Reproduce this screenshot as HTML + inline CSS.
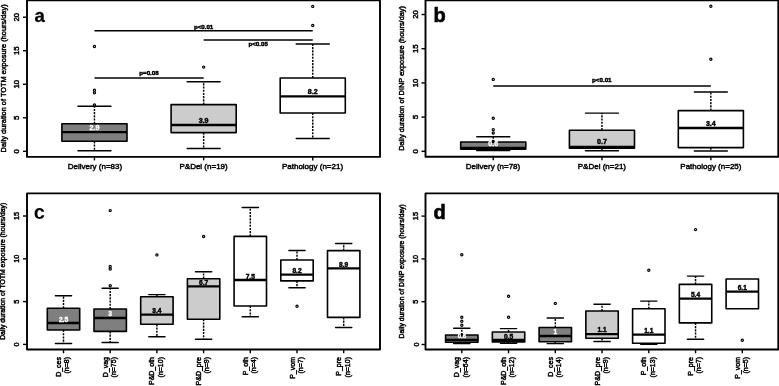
<!DOCTYPE html>
<html><head><meta charset="utf-8"><style>
html,body{margin:0;padding:0;background:#fff;}
body{width:779px;height:386px;overflow:hidden;}
svg{display:block;font-family:"Liberation Sans", sans-serif;will-change:transform;}
text.b{font-weight:700;}
text.k{stroke:#000;stroke-width:0.25px;}
text.w{stroke:#fff;stroke-width:0.2px;}
text.r{stroke:#000;stroke-width:0.45px;}
text.k2{stroke:#000;stroke-width:0.45px;}
text.w2{stroke:#fff;stroke-width:0.35px;}
</style></head><body>
<svg width="779" height="386" viewBox="0 0 779 386">
<rect x="0" y="0" width="779" height="386" fill="#fff"/>
<rect x="27" y="0.3" width="353" height="156.6" fill="none" stroke="#000" stroke-width="1.9" stroke-linejoin="round"/>
<line x1="23" y1="151.3" x2="27" y2="151.3" stroke="#000" stroke-width="1.4"/>
<text x="18.9" y="151.3" transform="rotate(-90 18.9 151.3)" text-anchor="middle" font-size="7.8" class="r">0</text>
<line x1="23" y1="117.78" x2="27" y2="117.78" stroke="#000" stroke-width="1.4"/>
<text x="18.9" y="117.78" transform="rotate(-90 18.9 117.78)" text-anchor="middle" font-size="7.8" class="r">5</text>
<line x1="23" y1="84.25" x2="27" y2="84.25" stroke="#000" stroke-width="1.4"/>
<text x="18.9" y="84.25" transform="rotate(-90 18.9 84.25)" text-anchor="middle" font-size="7.8" class="r">10</text>
<line x1="23" y1="50.73" x2="27" y2="50.73" stroke="#000" stroke-width="1.4"/>
<text x="18.9" y="50.73" transform="rotate(-90 18.9 50.73)" text-anchor="middle" font-size="7.8" class="r">15</text>
<line x1="23" y1="17.2" x2="27" y2="17.2" stroke="#000" stroke-width="1.4"/>
<text x="18.9" y="17.2" transform="rotate(-90 18.9 17.2)" text-anchor="middle" font-size="7.8" class="r">20</text>
<text x="5.9" y="78.4" transform="rotate(-90 5.9 78.4)" text-anchor="middle" font-size="7.4" class="r">Daily duration of TOTM exposure (hours/day)</text>
<text x="34.6" y="21.7" font-size="18.6" class="b" stroke="#000" stroke-width="0.3">a</text>
<line x1="94.45" y1="123.8" x2="94.45" y2="106.3" stroke="#000" stroke-width="1.45" stroke-dasharray="2.1 1.1"/>
<line x1="94.45" y1="141.3" x2="94.45" y2="150.8" stroke="#000" stroke-width="1.45" stroke-dasharray="2.1 1.1"/>
<line x1="77.95" y1="106.3" x2="110.95" y2="106.3" stroke="#000" stroke-width="1.45" stroke-linecap="round"/>
<line x1="77.95" y1="150.8" x2="110.95" y2="150.8" stroke="#000" stroke-width="1.45" stroke-linecap="round"/>
<rect x="61.9" y="123.8" width="65.1" height="17.5" fill="#7f7f7f" stroke="#000" stroke-width="1.6" stroke-linejoin="round"/>
<line x1="61.9" y1="132.1" x2="127" y2="132.1" stroke="#000" stroke-width="2.3"/>
<circle cx="94.45" cy="105" r="1.1" fill="none" stroke="#000" stroke-width="1.2"/>
<circle cx="94.45" cy="90.2" r="1.1" fill="none" stroke="#000" stroke-width="1.2"/>
<circle cx="94.45" cy="92.7" r="1.1" fill="none" stroke="#000" stroke-width="1.2"/>
<circle cx="94.45" cy="46.5" r="1.1" fill="none" stroke="#000" stroke-width="1.2"/>
<text x="94.45" y="130.2" text-anchor="middle" font-size="7.1" fill="#fff" class="b w2">2.9</text>
<line x1="203.65" y1="104.6" x2="203.65" y2="81.8" stroke="#000" stroke-width="1.45" stroke-dasharray="2.1 1.1"/>
<line x1="203.65" y1="132.6" x2="203.65" y2="148.5" stroke="#000" stroke-width="1.45" stroke-dasharray="2.1 1.1"/>
<line x1="187.15" y1="81.8" x2="220.15" y2="81.8" stroke="#000" stroke-width="1.45" stroke-linecap="round"/>
<line x1="187.15" y1="148.5" x2="220.15" y2="148.5" stroke="#000" stroke-width="1.45" stroke-linecap="round"/>
<rect x="171.1" y="104.6" width="65.1" height="28" fill="#cccccc" stroke="#000" stroke-width="1.6" stroke-linejoin="round"/>
<line x1="171.1" y1="125" x2="236.2" y2="125" stroke="#000" stroke-width="2.3"/>
<circle cx="203.65" cy="67.1" r="1.1" fill="none" stroke="#000" stroke-width="1.2"/>
<text x="203.65" y="123.1" text-anchor="middle" font-size="7.1" fill="#000" class="b k2">3.9</text>
<line x1="312.75" y1="78" x2="312.75" y2="43.9" stroke="#000" stroke-width="1.45" stroke-dasharray="2.1 1.1"/>
<line x1="312.75" y1="113" x2="312.75" y2="138.4" stroke="#000" stroke-width="1.45" stroke-dasharray="2.1 1.1"/>
<line x1="296.25" y1="43.9" x2="329.25" y2="43.9" stroke="#000" stroke-width="1.45" stroke-linecap="round"/>
<line x1="296.25" y1="138.4" x2="329.25" y2="138.4" stroke="#000" stroke-width="1.45" stroke-linecap="round"/>
<rect x="280.2" y="78" width="65.1" height="35" fill="#ffffff" stroke="#000" stroke-width="1.6" stroke-linejoin="round"/>
<line x1="280.2" y1="96.3" x2="345.3" y2="96.3" stroke="#000" stroke-width="2.3"/>
<circle cx="312.75" cy="6.4" r="1.1" fill="none" stroke="#000" stroke-width="1.2"/>
<circle cx="312.75" cy="25.5" r="1.1" fill="none" stroke="#000" stroke-width="1.2"/>
<text x="312.75" y="94.4" text-anchor="middle" font-size="7.1" fill="#000" class="b k2">8.2</text>
<line x1="94.45" y1="30.7" x2="312.75" y2="30.7" stroke="#000" stroke-width="1.5"/>
<text x="203.6" y="29" text-anchor="middle" font-size="6.2" class="b k2">p&lt;0.01</text>
<line x1="203.65" y1="40" x2="312.75" y2="40" stroke="#000" stroke-width="1.5"/>
<text x="258.2" y="45.8" text-anchor="middle" font-size="6.2" class="b k2">p&lt;0.05</text>
<line x1="94.45" y1="77.9" x2="203.65" y2="77.9" stroke="#000" stroke-width="1.5"/>
<text x="149" y="75.4" text-anchor="middle" font-size="6.2" class="b k2">p=0.08</text>
<line x1="94.45" y1="156.9" x2="94.45" y2="160.4" stroke="#000" stroke-width="1.4"/>
<line x1="203.65" y1="156.9" x2="203.65" y2="160.4" stroke="#000" stroke-width="1.4"/>
<line x1="312.75" y1="156.9" x2="312.75" y2="160.4" stroke="#000" stroke-width="1.4"/>
<text x="94.9" y="168.5" text-anchor="middle" font-size="8.0" class="r">Delivery (n=83)</text>
<text x="203.6" y="168.5" text-anchor="middle" font-size="8.0" class="r">P&amp;Del (n=19)</text>
<text x="312.5" y="168.5" text-anchor="middle" font-size="8.0" class="r">Pathology (n=21)</text>
<rect x="425.5" y="0.3" width="352.8" height="156.5" fill="none" stroke="#000" stroke-width="1.9" stroke-linejoin="round"/>
<line x1="421.5" y1="151.3" x2="425.5" y2="151.3" stroke="#000" stroke-width="1.4"/>
<text x="417.9" y="151.3" transform="rotate(-90 417.9 151.3)" text-anchor="middle" font-size="7.8" class="r">0</text>
<line x1="421.5" y1="117.1" x2="425.5" y2="117.1" stroke="#000" stroke-width="1.4"/>
<text x="417.9" y="117.1" transform="rotate(-90 417.9 117.1)" text-anchor="middle" font-size="7.8" class="r">5</text>
<line x1="421.5" y1="82.9" x2="425.5" y2="82.9" stroke="#000" stroke-width="1.4"/>
<text x="417.9" y="82.9" transform="rotate(-90 417.9 82.9)" text-anchor="middle" font-size="7.8" class="r">10</text>
<line x1="421.5" y1="48.7" x2="425.5" y2="48.7" stroke="#000" stroke-width="1.4"/>
<text x="417.9" y="48.7" transform="rotate(-90 417.9 48.7)" text-anchor="middle" font-size="7.8" class="r">15</text>
<line x1="421.5" y1="14.5" x2="425.5" y2="14.5" stroke="#000" stroke-width="1.4"/>
<text x="417.9" y="14.5" transform="rotate(-90 417.9 14.5)" text-anchor="middle" font-size="7.8" class="r">20</text>
<text x="404.3" y="78.4" transform="rotate(-90 404.3 78.4)" text-anchor="middle" font-size="7.4" class="r">Daily duration of DINP exposure (hours/day)</text>
<text x="433.6" y="21.7" font-size="20" class="b" stroke="#000" stroke-width="0.6">b</text>
<line x1="493.25" y1="142" x2="493.25" y2="136.8" stroke="#000" stroke-width="1.45" stroke-dasharray="2.1 1.1"/>
<line x1="493.25" y1="149.1" x2="493.25" y2="150.5" stroke="#000" stroke-width="1.45" stroke-dasharray="2.1 1.1"/>
<line x1="476.75" y1="136.8" x2="509.75" y2="136.8" stroke="#000" stroke-width="1.45" stroke-linecap="round"/>
<line x1="476.75" y1="150.5" x2="509.75" y2="150.5" stroke="#000" stroke-width="1.45" stroke-linecap="round"/>
<rect x="460.7" y="142" width="65.1" height="7.1" fill="#7f7f7f" stroke="#000" stroke-width="1.6" stroke-linejoin="round"/>
<line x1="460.7" y1="148" x2="525.8" y2="148" stroke="#000" stroke-width="2.3"/>
<circle cx="493.25" cy="79.4" r="1.1" fill="none" stroke="#000" stroke-width="1.2"/>
<circle cx="493.25" cy="118.3" r="1.1" fill="none" stroke="#000" stroke-width="1.2"/>
<circle cx="493.25" cy="129.6" r="1.1" fill="none" stroke="#000" stroke-width="1.2"/>
<circle cx="493.25" cy="133" r="1.1" fill="none" stroke="#000" stroke-width="1.2"/>
<circle cx="493.25" cy="141.4" r="1.1" fill="none" stroke="#000" stroke-width="1.2"/>
<text x="493.25" y="146.2" text-anchor="middle" font-size="7.1" fill="#fff" class="b w2">0.6</text>
<line x1="601.95" y1="130.2" x2="601.95" y2="113.1" stroke="#000" stroke-width="1.45" stroke-dasharray="2.1 1.1"/>
<line x1="601.95" y1="148.3" x2="601.95" y2="150.7" stroke="#000" stroke-width="1.45" stroke-dasharray="2.1 1.1"/>
<line x1="585.45" y1="113.1" x2="618.45" y2="113.1" stroke="#000" stroke-width="1.45" stroke-linecap="round"/>
<line x1="585.45" y1="150.7" x2="618.45" y2="150.7" stroke="#000" stroke-width="1.45" stroke-linecap="round"/>
<rect x="569.4" y="130.2" width="65.1" height="18.1" fill="#cccccc" stroke="#000" stroke-width="1.6" stroke-linejoin="round"/>
<line x1="569.4" y1="147" x2="634.5" y2="147" stroke="#000" stroke-width="2.3"/>
<text x="601.95" y="144.4" text-anchor="middle" font-size="7.1" fill="#000" class="b k2">0.7</text>
<line x1="710.85" y1="110.6" x2="710.85" y2="92" stroke="#000" stroke-width="1.45" stroke-dasharray="2.1 1.1"/>
<line x1="710.85" y1="147.6" x2="710.85" y2="151" stroke="#000" stroke-width="1.45" stroke-dasharray="2.1 1.1"/>
<line x1="694.35" y1="92" x2="727.35" y2="92" stroke="#000" stroke-width="1.45" stroke-linecap="round"/>
<line x1="694.35" y1="151" x2="727.35" y2="151" stroke="#000" stroke-width="1.45" stroke-linecap="round"/>
<rect x="678.3" y="110.6" width="65.1" height="37" fill="#ffffff" stroke="#000" stroke-width="1.6" stroke-linejoin="round"/>
<line x1="678.3" y1="128" x2="743.4" y2="128" stroke="#000" stroke-width="2.3"/>
<circle cx="710.85" cy="6.2" r="1.1" fill="none" stroke="#000" stroke-width="1.2"/>
<circle cx="710.85" cy="59.3" r="1.1" fill="none" stroke="#000" stroke-width="1.2"/>
<text x="710.85" y="126.1" text-anchor="middle" font-size="7.1" fill="#000" class="b k2">3.4</text>
<line x1="493.25" y1="85.9" x2="710.85" y2="85.9" stroke="#000" stroke-width="1.5"/>
<text x="601.8" y="81.8" text-anchor="middle" font-size="6.2" class="b k2">p&lt;0.01</text>
<line x1="493.25" y1="156.8" x2="493.25" y2="160.3" stroke="#000" stroke-width="1.4"/>
<line x1="601.95" y1="156.8" x2="601.95" y2="160.3" stroke="#000" stroke-width="1.4"/>
<line x1="710.85" y1="156.8" x2="710.85" y2="160.3" stroke="#000" stroke-width="1.4"/>
<text x="493" y="168.5" text-anchor="middle" font-size="8.0" class="r">Delivery (n=78)</text>
<text x="601.9" y="168.5" text-anchor="middle" font-size="8.0" class="r">P&amp;Del (n=21)</text>
<text x="710.9" y="168.5" text-anchor="middle" font-size="8.0" class="r">Pathology (n=25)</text>
<rect x="27" y="193.4" width="353" height="156.1" fill="none" stroke="#000" stroke-width="1.9" stroke-linejoin="round"/>
<line x1="23" y1="344.4" x2="27" y2="344.4" stroke="#000" stroke-width="1.4"/>
<text x="18.8" y="344.4" transform="rotate(-90 18.8 344.4)" text-anchor="middle" font-size="7.3" class="r">0</text>
<line x1="23" y1="301.6" x2="27" y2="301.6" stroke="#000" stroke-width="1.4"/>
<text x="18.8" y="301.6" transform="rotate(-90 18.8 301.6)" text-anchor="middle" font-size="7.3" class="r">5</text>
<line x1="23" y1="258.8" x2="27" y2="258.8" stroke="#000" stroke-width="1.4"/>
<text x="18.8" y="258.8" transform="rotate(-90 18.8 258.8)" text-anchor="middle" font-size="7.3" class="r">10</text>
<line x1="23" y1="216" x2="27" y2="216" stroke="#000" stroke-width="1.4"/>
<text x="18.8" y="216" transform="rotate(-90 18.8 216)" text-anchor="middle" font-size="7.3" class="r">15</text>
<text x="5.4" y="271.3" transform="rotate(-90 5.4 271.3)" text-anchor="middle" font-size="6.85" class="r">Daily duration of TOTM exposure (hours/day)</text>
<text x="33.8" y="218.8" font-size="20" class="b">c</text>
<line x1="63.5" y1="308.3" x2="63.5" y2="295.8" stroke="#000" stroke-width="1.45" stroke-dasharray="2.1 1.1"/>
<line x1="63.5" y1="330" x2="63.5" y2="343.5" stroke="#000" stroke-width="1.45" stroke-dasharray="2.1 1.1"/>
<line x1="55.4" y1="295.8" x2="71.6" y2="295.8" stroke="#000" stroke-width="1.45" stroke-linecap="round"/>
<line x1="55.4" y1="343.5" x2="71.6" y2="343.5" stroke="#000" stroke-width="1.45" stroke-linecap="round"/>
<rect x="47.3" y="308.3" width="32.4" height="21.7" fill="#7f7f7f" stroke="#000" stroke-width="1.6" stroke-linejoin="round"/>
<line x1="47.3" y1="323" x2="79.7" y2="323" stroke="#000" stroke-width="2.3"/>
<text x="63.5" y="321.6" text-anchor="middle" font-size="6.6" fill="#fff" class="b w2">2.5</text>
<line x1="110.2" y1="309" x2="110.2" y2="288.3" stroke="#000" stroke-width="1.45" stroke-dasharray="2.1 1.1"/>
<line x1="110.2" y1="331.4" x2="110.2" y2="342.5" stroke="#000" stroke-width="1.45" stroke-dasharray="2.1 1.1"/>
<line x1="102.1" y1="288.3" x2="118.3" y2="288.3" stroke="#000" stroke-width="1.45" stroke-linecap="round"/>
<line x1="102.1" y1="342.5" x2="118.3" y2="342.5" stroke="#000" stroke-width="1.45" stroke-linecap="round"/>
<rect x="94" y="309" width="32.4" height="22.4" fill="#7f7f7f" stroke="#000" stroke-width="1.6" stroke-linejoin="round"/>
<line x1="94" y1="318" x2="126.4" y2="318" stroke="#000" stroke-width="2.3"/>
<circle cx="110.2" cy="210.6" r="1.1" fill="none" stroke="#000" stroke-width="1.2"/>
<circle cx="110.2" cy="266.4" r="1.1" fill="none" stroke="#000" stroke-width="1.2"/>
<circle cx="110.2" cy="269" r="1.1" fill="none" stroke="#000" stroke-width="1.2"/>
<circle cx="110.2" cy="285.8" r="1.1" fill="none" stroke="#000" stroke-width="1.2"/>
<text x="110.2" y="316.1" text-anchor="middle" font-size="6.6" fill="#fff" class="b w2">3</text>
<line x1="156.9" y1="296.7" x2="156.9" y2="294.6" stroke="#000" stroke-width="1.45" stroke-dasharray="2.1 1.1"/>
<line x1="156.9" y1="324.3" x2="156.9" y2="336.7" stroke="#000" stroke-width="1.45" stroke-dasharray="2.1 1.1"/>
<line x1="148.8" y1="294.6" x2="165" y2="294.6" stroke="#000" stroke-width="1.45" stroke-linecap="round"/>
<line x1="148.8" y1="336.7" x2="165" y2="336.7" stroke="#000" stroke-width="1.45" stroke-linecap="round"/>
<rect x="140.7" y="296.7" width="32.4" height="27.6" fill="#cccccc" stroke="#000" stroke-width="1.6" stroke-linejoin="round"/>
<line x1="140.7" y1="314.7" x2="173.1" y2="314.7" stroke="#000" stroke-width="2.3"/>
<circle cx="156.9" cy="254.9" r="1.1" fill="none" stroke="#000" stroke-width="1.2"/>
<text x="156.9" y="313.4" text-anchor="middle" font-size="6.6" fill="#000" class="b k2">3.4</text>
<line x1="203.6" y1="278.7" x2="203.6" y2="271.8" stroke="#000" stroke-width="1.45" stroke-dasharray="2.1 1.1"/>
<line x1="203.6" y1="319.2" x2="203.6" y2="339.2" stroke="#000" stroke-width="1.45" stroke-dasharray="2.1 1.1"/>
<line x1="195.5" y1="271.8" x2="211.7" y2="271.8" stroke="#000" stroke-width="1.45" stroke-linecap="round"/>
<line x1="195.5" y1="339.2" x2="211.7" y2="339.2" stroke="#000" stroke-width="1.45" stroke-linecap="round"/>
<rect x="187.4" y="278.7" width="32.4" height="40.5" fill="#cccccc" stroke="#000" stroke-width="1.6" stroke-linejoin="round"/>
<line x1="187.4" y1="286.3" x2="219.8" y2="286.3" stroke="#000" stroke-width="2.3"/>
<circle cx="203.6" cy="236.5" r="1.1" fill="none" stroke="#000" stroke-width="1.2"/>
<text x="203.6" y="284.9" text-anchor="middle" font-size="6.6" fill="#000" class="b k2">6.7</text>
<line x1="250.3" y1="236.4" x2="250.3" y2="207.4" stroke="#000" stroke-width="1.45" stroke-dasharray="2.1 1.1"/>
<line x1="250.3" y1="306" x2="250.3" y2="316.8" stroke="#000" stroke-width="1.45" stroke-dasharray="2.1 1.1"/>
<line x1="242.2" y1="207.4" x2="258.4" y2="207.4" stroke="#000" stroke-width="1.45" stroke-linecap="round"/>
<line x1="242.2" y1="316.8" x2="258.4" y2="316.8" stroke="#000" stroke-width="1.45" stroke-linecap="round"/>
<rect x="234.1" y="236.4" width="32.4" height="69.6" fill="#ffffff" stroke="#000" stroke-width="1.6" stroke-linejoin="round"/>
<line x1="234.1" y1="280" x2="266.5" y2="280" stroke="#000" stroke-width="2.3"/>
<text x="250.3" y="278.7" text-anchor="middle" font-size="6.6" fill="#000" class="b k2">7.5</text>
<line x1="297" y1="260" x2="297" y2="250.5" stroke="#000" stroke-width="1.45" stroke-dasharray="2.1 1.1"/>
<line x1="297" y1="280.9" x2="297" y2="287.8" stroke="#000" stroke-width="1.45" stroke-dasharray="2.1 1.1"/>
<line x1="288.9" y1="250.5" x2="305.1" y2="250.5" stroke="#000" stroke-width="1.45" stroke-linecap="round"/>
<line x1="288.9" y1="287.8" x2="305.1" y2="287.8" stroke="#000" stroke-width="1.45" stroke-linecap="round"/>
<rect x="280.8" y="260" width="32.4" height="20.9" fill="#ffffff" stroke="#000" stroke-width="1.6" stroke-linejoin="round"/>
<line x1="280.8" y1="274.6" x2="313.2" y2="274.6" stroke="#000" stroke-width="2.3"/>
<circle cx="297" cy="306.2" r="1.1" fill="none" stroke="#000" stroke-width="1.2"/>
<text x="297" y="272.7" text-anchor="middle" font-size="6.6" fill="#000" class="b k2">8.2</text>
<line x1="343.7" y1="250.6" x2="343.7" y2="243.4" stroke="#000" stroke-width="1.45" stroke-dasharray="2.1 1.1"/>
<line x1="343.7" y1="317.4" x2="343.7" y2="327.4" stroke="#000" stroke-width="1.45" stroke-dasharray="2.1 1.1"/>
<line x1="335.6" y1="243.4" x2="351.8" y2="243.4" stroke="#000" stroke-width="1.45" stroke-linecap="round"/>
<line x1="335.6" y1="327.4" x2="351.8" y2="327.4" stroke="#000" stroke-width="1.45" stroke-linecap="round"/>
<rect x="327.5" y="250.6" width="32.4" height="66.8" fill="#ffffff" stroke="#000" stroke-width="1.6" stroke-linejoin="round"/>
<line x1="327.5" y1="268.4" x2="359.9" y2="268.4" stroke="#000" stroke-width="2.3"/>
<text x="343.7" y="266.5" text-anchor="middle" font-size="6.6" fill="#000" class="b k2">8.9</text>
<line x1="63.5" y1="349.5" x2="63.5" y2="353.3" stroke="#000" stroke-width="1.4"/>
<text x="58.55" y="357" transform="rotate(-90 58.55 357)" text-anchor="end" dominant-baseline="central" font-size="7" class="r">D_ces</text>
<text x="66.85" y="357" transform="rotate(-90 66.85 357)" text-anchor="end" dominant-baseline="central" font-size="7" class="r">(n=8)</text>
<line x1="110.2" y1="349.5" x2="110.2" y2="353.3" stroke="#000" stroke-width="1.4"/>
<text x="105.25" y="357" transform="rotate(-90 105.25 357)" text-anchor="end" dominant-baseline="central" font-size="7" class="r">D_vag</text>
<text x="113.55" y="357" transform="rotate(-90 113.55 357)" text-anchor="end" dominant-baseline="central" font-size="7" class="r">(n=75)</text>
<line x1="156.9" y1="349.5" x2="156.9" y2="353.3" stroke="#000" stroke-width="1.4"/>
<text x="151.95" y="357" transform="rotate(-90 151.95 357)" text-anchor="end" dominant-baseline="central" font-size="7" class="r">P&amp;D_oth</text>
<text x="160.25" y="357" transform="rotate(-90 160.25 357)" text-anchor="end" dominant-baseline="central" font-size="7" class="r">(n=10)</text>
<line x1="203.6" y1="349.5" x2="203.6" y2="353.3" stroke="#000" stroke-width="1.4"/>
<text x="198.65" y="357" transform="rotate(-90 198.65 357)" text-anchor="end" dominant-baseline="central" font-size="7" class="r">P&amp;D_pre</text>
<text x="206.95" y="357" transform="rotate(-90 206.95 357)" text-anchor="end" dominant-baseline="central" font-size="7" class="r">(n=9)</text>
<line x1="250.3" y1="349.5" x2="250.3" y2="353.3" stroke="#000" stroke-width="1.4"/>
<text x="245.35" y="357" transform="rotate(-90 245.35 357)" text-anchor="end" dominant-baseline="central" font-size="7" class="r">P_oth</text>
<text x="253.65" y="357" transform="rotate(-90 253.65 357)" text-anchor="end" dominant-baseline="central" font-size="7" class="r">(n=4)</text>
<line x1="297" y1="349.5" x2="297" y2="353.3" stroke="#000" stroke-width="1.4"/>
<text x="292.05" y="357" transform="rotate(-90 292.05 357)" text-anchor="end" dominant-baseline="central" font-size="7" class="r">P_vom</text>
<text x="300.35" y="357" transform="rotate(-90 300.35 357)" text-anchor="end" dominant-baseline="central" font-size="7" class="r">(n=7)</text>
<line x1="343.7" y1="349.5" x2="343.7" y2="353.3" stroke="#000" stroke-width="1.4"/>
<text x="338.75" y="357" transform="rotate(-90 338.75 357)" text-anchor="end" dominant-baseline="central" font-size="7" class="r">P_pre</text>
<text x="347.05" y="357" transform="rotate(-90 347.05 357)" text-anchor="end" dominant-baseline="central" font-size="7" class="r">(n=10)</text>
<rect x="425.5" y="193.4" width="352.8" height="156.1" fill="none" stroke="#000" stroke-width="1.9" stroke-linejoin="round"/>
<line x1="421.5" y1="344.5" x2="425.5" y2="344.5" stroke="#000" stroke-width="1.4"/>
<text x="418.5" y="344.5" transform="rotate(-90 418.5 344.5)" text-anchor="middle" font-size="7.3" class="r">0</text>
<line x1="421.5" y1="301.7" x2="425.5" y2="301.7" stroke="#000" stroke-width="1.4"/>
<text x="418.5" y="301.7" transform="rotate(-90 418.5 301.7)" text-anchor="middle" font-size="7.3" class="r">5</text>
<line x1="421.5" y1="258.9" x2="425.5" y2="258.9" stroke="#000" stroke-width="1.4"/>
<text x="418.5" y="258.9" transform="rotate(-90 418.5 258.9)" text-anchor="middle" font-size="7.3" class="r">10</text>
<line x1="421.5" y1="216.1" x2="425.5" y2="216.1" stroke="#000" stroke-width="1.4"/>
<text x="418.5" y="216.1" transform="rotate(-90 418.5 216.1)" text-anchor="middle" font-size="7.3" class="r">15</text>
<text x="404" y="271.3" transform="rotate(-90 404 271.3)" text-anchor="middle" font-size="6.85" class="r">Daily duration of DINP exposure (hours/day)</text>
<text x="433.4" y="218.8" font-size="20" class="b" stroke="#000" stroke-width="0.6">d</text>
<line x1="461.8" y1="335" x2="461.8" y2="328.3" stroke="#000" stroke-width="1.45" stroke-dasharray="2.1 1.1"/>
<line x1="461.8" y1="342.3" x2="461.8" y2="343.4" stroke="#000" stroke-width="1.45" stroke-dasharray="2.1 1.1"/>
<line x1="453.7" y1="328.3" x2="469.9" y2="328.3" stroke="#000" stroke-width="1.45" stroke-linecap="round"/>
<line x1="453.7" y1="343.4" x2="469.9" y2="343.4" stroke="#000" stroke-width="1.45" stroke-linecap="round"/>
<rect x="445.6" y="335" width="32.4" height="7.3" fill="#7f7f7f" stroke="#000" stroke-width="1.6" stroke-linejoin="round"/>
<line x1="445.6" y1="339.8" x2="478" y2="339.8" stroke="#000" stroke-width="2.3"/>
<circle cx="461.8" cy="254.7" r="1.1" fill="none" stroke="#000" stroke-width="1.2"/>
<circle cx="461.8" cy="317.3" r="1.1" fill="none" stroke="#000" stroke-width="1.2"/>
<circle cx="461.8" cy="321.2" r="1.1" fill="none" stroke="#000" stroke-width="1.2"/>
<circle cx="461.8" cy="325.3" r="1.1" fill="none" stroke="#000" stroke-width="1.2"/>
<circle cx="461.8" cy="334.9" r="1.1" fill="none" stroke="#000" stroke-width="1.2"/>
<text x="461.8" y="338.4" text-anchor="middle" font-size="6.0" fill="#fff" class="b w2">0.6</text>
<line x1="508.55" y1="332" x2="508.55" y2="328.6" stroke="#000" stroke-width="1.45" stroke-dasharray="2.1 1.1"/>
<line x1="508.55" y1="341.9" x2="508.55" y2="343.3" stroke="#000" stroke-width="1.45" stroke-dasharray="2.1 1.1"/>
<line x1="500.45" y1="328.6" x2="516.65" y2="328.6" stroke="#000" stroke-width="1.45" stroke-linecap="round"/>
<line x1="500.45" y1="343.3" x2="516.65" y2="343.3" stroke="#000" stroke-width="1.45" stroke-linecap="round"/>
<rect x="492.35" y="332" width="32.4" height="9.9" fill="#cccccc" stroke="#000" stroke-width="1.6" stroke-linejoin="round"/>
<line x1="492.35" y1="340" x2="524.75" y2="340" stroke="#000" stroke-width="2.3"/>
<circle cx="508.55" cy="296.2" r="1.1" fill="none" stroke="#000" stroke-width="1.2"/>
<circle cx="508.55" cy="317.2" r="1.1" fill="none" stroke="#000" stroke-width="1.2"/>
<text x="508.55" y="338.5" text-anchor="middle" font-size="6.6" fill="#000" class="b k2">0.5</text>
<line x1="555.3" y1="327.5" x2="555.3" y2="318" stroke="#000" stroke-width="1.45" stroke-dasharray="2.1 1.1"/>
<line x1="555.3" y1="341.7" x2="555.3" y2="343.6" stroke="#000" stroke-width="1.45" stroke-dasharray="2.1 1.1"/>
<line x1="547.2" y1="318" x2="563.4" y2="318" stroke="#000" stroke-width="1.45" stroke-linecap="round"/>
<line x1="547.2" y1="343.6" x2="563.4" y2="343.6" stroke="#000" stroke-width="1.45" stroke-linecap="round"/>
<rect x="539.1" y="327.5" width="32.4" height="14.2" fill="#7f7f7f" stroke="#000" stroke-width="1.6" stroke-linejoin="round"/>
<line x1="539.1" y1="336" x2="571.5" y2="336" stroke="#000" stroke-width="2.3"/>
<circle cx="555.3" cy="303.4" r="1.1" fill="none" stroke="#000" stroke-width="1.2"/>
<text x="555.3" y="334.1" text-anchor="middle" font-size="6.6" fill="#fff" class="b w2">1</text>
<line x1="602.05" y1="311" x2="602.05" y2="304.3" stroke="#000" stroke-width="1.45" stroke-dasharray="2.1 1.1"/>
<line x1="602.05" y1="338.3" x2="602.05" y2="341.5" stroke="#000" stroke-width="1.45" stroke-dasharray="2.1 1.1"/>
<line x1="593.95" y1="304.3" x2="610.15" y2="304.3" stroke="#000" stroke-width="1.45" stroke-linecap="round"/>
<line x1="593.95" y1="341.5" x2="610.15" y2="341.5" stroke="#000" stroke-width="1.45" stroke-linecap="round"/>
<rect x="585.85" y="311" width="32.4" height="27.3" fill="#cccccc" stroke="#000" stroke-width="1.6" stroke-linejoin="round"/>
<line x1="585.85" y1="334.2" x2="618.25" y2="334.2" stroke="#000" stroke-width="2.3"/>
<text x="602.05" y="332.3" text-anchor="middle" font-size="6.6" fill="#000" class="b k2">1.1</text>
<line x1="648.8" y1="308.8" x2="648.8" y2="301.1" stroke="#000" stroke-width="1.45" stroke-dasharray="2.1 1.1"/>
<line x1="648.8" y1="343.2" x2="648.8" y2="344.3" stroke="#000" stroke-width="1.45" stroke-dasharray="2.1 1.1"/>
<line x1="640.7" y1="301.1" x2="656.9" y2="301.1" stroke="#000" stroke-width="1.45" stroke-linecap="round"/>
<line x1="640.7" y1="344.3" x2="656.9" y2="344.3" stroke="#000" stroke-width="1.45" stroke-linecap="round"/>
<rect x="632.6" y="308.8" width="32.4" height="34.4" fill="#ffffff" stroke="#000" stroke-width="1.6" stroke-linejoin="round"/>
<line x1="632.6" y1="334.6" x2="665" y2="334.6" stroke="#000" stroke-width="2.3"/>
<circle cx="648.8" cy="270.2" r="1.1" fill="none" stroke="#000" stroke-width="1.2"/>
<text x="648.8" y="332.7" text-anchor="middle" font-size="6.6" fill="#000" class="b k2">1.1</text>
<line x1="695.55" y1="284.4" x2="695.55" y2="276.1" stroke="#000" stroke-width="1.45" stroke-dasharray="2.1 1.1"/>
<line x1="695.55" y1="322.9" x2="695.55" y2="339.3" stroke="#000" stroke-width="1.45" stroke-dasharray="2.1 1.1"/>
<line x1="687.45" y1="276.1" x2="703.65" y2="276.1" stroke="#000" stroke-width="1.45" stroke-linecap="round"/>
<line x1="687.45" y1="339.3" x2="703.65" y2="339.3" stroke="#000" stroke-width="1.45" stroke-linecap="round"/>
<rect x="679.35" y="284.4" width="32.4" height="38.5" fill="#ffffff" stroke="#000" stroke-width="1.6" stroke-linejoin="round"/>
<line x1="679.35" y1="298.7" x2="711.75" y2="298.7" stroke="#000" stroke-width="2.3"/>
<circle cx="695.55" cy="229.6" r="1.1" fill="none" stroke="#000" stroke-width="1.2"/>
<text x="695.55" y="296.8" text-anchor="middle" font-size="6.6" fill="#000" class="b k2">5.4</text>
<rect x="726.1" y="279" width="32.4" height="29.7" fill="#ffffff" stroke="#000" stroke-width="1.6" stroke-linejoin="round"/>
<line x1="726.1" y1="291.7" x2="758.5" y2="291.7" stroke="#000" stroke-width="2.3"/>
<circle cx="742.3" cy="340.3" r="1.1" fill="none" stroke="#000" stroke-width="1.2"/>
<text x="742.3" y="289.8" text-anchor="middle" font-size="6.6" fill="#000" class="b k2">6.1</text>
<line x1="461.8" y1="349.5" x2="461.8" y2="353.3" stroke="#000" stroke-width="1.4"/>
<text x="456.85" y="357" transform="rotate(-90 456.85 357)" text-anchor="end" dominant-baseline="central" font-size="7" class="r">D_vag</text>
<text x="465.15" y="357" transform="rotate(-90 465.15 357)" text-anchor="end" dominant-baseline="central" font-size="7" class="r">(n=64)</text>
<line x1="508.55" y1="349.5" x2="508.55" y2="353.3" stroke="#000" stroke-width="1.4"/>
<text x="503.6" y="357" transform="rotate(-90 503.6 357)" text-anchor="end" dominant-baseline="central" font-size="7" class="r">P&amp;D_oth</text>
<text x="511.9" y="357" transform="rotate(-90 511.9 357)" text-anchor="end" dominant-baseline="central" font-size="7" class="r">(n=12)</text>
<line x1="555.3" y1="349.5" x2="555.3" y2="353.3" stroke="#000" stroke-width="1.4"/>
<text x="550.35" y="357" transform="rotate(-90 550.35 357)" text-anchor="end" dominant-baseline="central" font-size="7" class="r">D_ces</text>
<text x="558.65" y="357" transform="rotate(-90 558.65 357)" text-anchor="end" dominant-baseline="central" font-size="7" class="r">(n=14)</text>
<line x1="602.05" y1="349.5" x2="602.05" y2="353.3" stroke="#000" stroke-width="1.4"/>
<text x="597.1" y="357" transform="rotate(-90 597.1 357)" text-anchor="end" dominant-baseline="central" font-size="7" class="r">P&amp;D_pre</text>
<text x="605.4" y="357" transform="rotate(-90 605.4 357)" text-anchor="end" dominant-baseline="central" font-size="7" class="r">(n=9)</text>
<line x1="648.8" y1="349.5" x2="648.8" y2="353.3" stroke="#000" stroke-width="1.4"/>
<text x="643.85" y="357" transform="rotate(-90 643.85 357)" text-anchor="end" dominant-baseline="central" font-size="7" class="r">P_oth</text>
<text x="652.15" y="357" transform="rotate(-90 652.15 357)" text-anchor="end" dominant-baseline="central" font-size="7" class="r">(n=13)</text>
<line x1="695.55" y1="349.5" x2="695.55" y2="353.3" stroke="#000" stroke-width="1.4"/>
<text x="690.6" y="357" transform="rotate(-90 690.6 357)" text-anchor="end" dominant-baseline="central" font-size="7" class="r">P_pre</text>
<text x="698.9" y="357" transform="rotate(-90 698.9 357)" text-anchor="end" dominant-baseline="central" font-size="7" class="r">(n=7)</text>
<line x1="742.3" y1="349.5" x2="742.3" y2="353.3" stroke="#000" stroke-width="1.4"/>
<text x="737.35" y="357" transform="rotate(-90 737.35 357)" text-anchor="end" dominant-baseline="central" font-size="7" class="r">P_vom</text>
<text x="745.65" y="357" transform="rotate(-90 745.65 357)" text-anchor="end" dominant-baseline="central" font-size="7" class="r">(n=5)</text>
</svg>
</body></html>
